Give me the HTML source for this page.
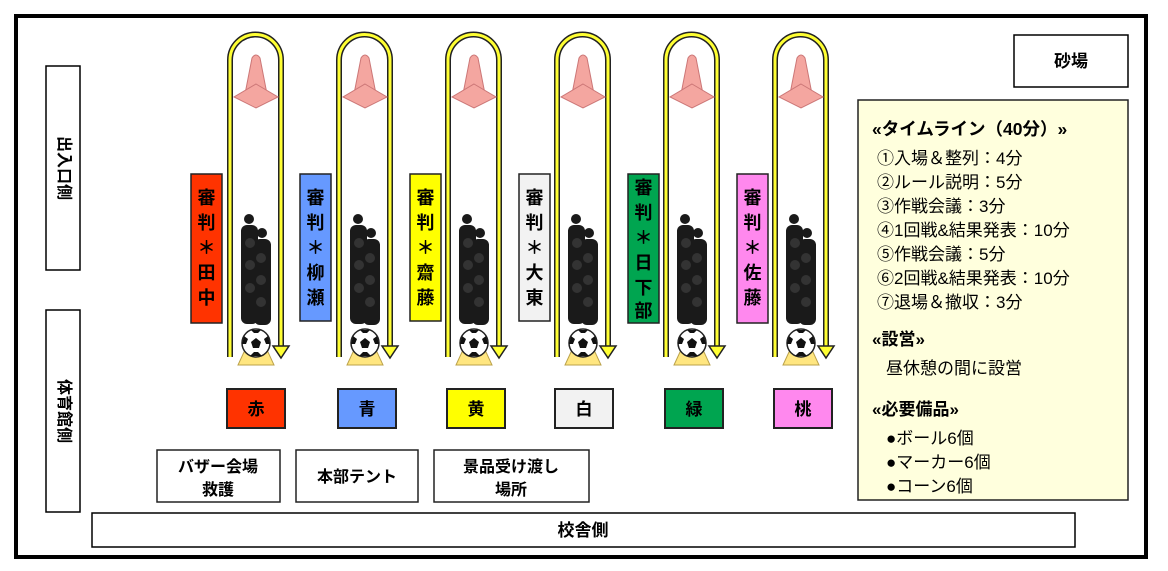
<!DOCTYPE html>
<html><head><meta charset="utf-8"><style>
html,body{margin:0;padding:0;background:#fff;}
svg{display:block;}
text{font-family:"Liberation Sans","Noto Sans CJK JP",sans-serif;}
.b{font-weight:bold;}
</style></head><body>
<svg width="1168" height="571" viewBox="0 0 1168 571" xmlns="http://www.w3.org/2000/svg">
<defs>
<g id="lane">
  <path d="M0,357 V60 A25.5,25.5 0 0 1 51,60 V348" fill="none" stroke="#222" stroke-width="6"/>
  <path d="M0,357 V60 A25.5,25.5 0 0 1 51,60 V348" fill="none" stroke="#ffff33" stroke-width="3"/>
  <polygon points="43,346 59,346 51,358" fill="#ffff33" stroke="#222" stroke-width="1.5"/>
  <path d="M22,58 Q26,52 30,58 L37,94 L15,94 Z" fill="#f4a6a0" stroke="#c77" stroke-width="1"/>
  <polygon points="26,84 48,97 26,108 4,97" fill="#f4a6a0" stroke="#c77" stroke-width="1"/>
  <polygon points="15,92 37,92 40,99 26,104 12,99" fill="#f4a6a0"/>
  <g fill="#1a1a1a">
    <circle cx="19" cy="219" r="5"/><rect x="11" y="225" width="17" height="99" rx="6"/>
    <circle cx="32" cy="233" r="5"/><rect x="24" y="239" width="17" height="86" rx="6"/>
    <circle cx="20" cy="243" r="5" fill="#333"/><circle cx="31" cy="258" r="5" fill="#333"/>
    <circle cx="20" cy="265" r="5" fill="#333"/><circle cx="31" cy="280" r="5" fill="#333"/>
    <circle cx="20" cy="288" r="5" fill="#333"/><circle cx="31" cy="302" r="5" fill="#333"/>
  </g>
  <path d="M8,365 L44,365 L38,352 L14,352 Z" fill="#ffe680" stroke="#bba24a" stroke-width="1"/>
  <circle cx="26" cy="343" r="14" fill="#fff" stroke="#222" stroke-width="1.5"/>
  <polygon points="26,338 31,342 29,348 23,348 21,342" fill="#111"/>
  <path d="M14,336 L18,339 L16,344 L12,344Z M38,336 L34,339 L36,344 L40,344Z M21,330 L31,330 L28,333 L24,333Z M20,356 L24,352 L28,352 L32,356Z" fill="#111"/>
</g>
</defs>
<rect x="16" y="16" width="1130" height="541" fill="#fff" stroke="#000" stroke-width="4"/>

<rect x="46" y="66" width="34" height="204" fill="#fff" stroke="#000" stroke-width="1.5"/>
<text class="b" font-size="16" text-anchor="middle" transform="translate(63,168) rotate(90)" dominant-baseline="middle">出入口側</text>
<rect x="46" y="310" width="34" height="202" fill="#fff" stroke="#000" stroke-width="1.5"/>
<text class="b" font-size="16" text-anchor="middle" transform="translate(63,411) rotate(90)" dominant-baseline="middle">体育館側</text>

<rect x="92" y="513" width="983" height="34" fill="#fff" stroke="#000" stroke-width="1.5"/>
<text class="b" x="583" y="536" font-size="17" text-anchor="middle">校舎側</text>

<rect x="1014" y="35" width="114" height="52" fill="#fff" stroke="#000" stroke-width="1.5"/>
<text class="b" x="1071" y="67" font-size="17" text-anchor="middle">砂場</text>

<use href="#lane" x="230"/>
<use href="#lane" x="339"/>
<use href="#lane" x="448"/>
<use href="#lane" x="557"/>
<use href="#lane" x="666"/>
<use href="#lane" x="775"/>

<g stroke="#222" stroke-width="1.5">
<rect x="191" y="174" width="31" height="149" fill="#ff3300"/>
<rect x="300" y="174" width="31" height="147" fill="#6699ff"/>
<rect x="410" y="174" width="31" height="147" fill="#ffff00"/>
<rect x="519" y="174" width="31" height="147" fill="#f2f2f2"/>
<rect x="628" y="174" width="31" height="149" fill="#00a550"/>
<rect x="737" y="174" width="31" height="149" fill="#ff88ee"/>
</g>
<g class="b" font-size="18" text-anchor="middle">
<text x="206.5" y="204">審</text><text x="206.5" y="229">判</text><text x="206.5" y="254">＊</text><text x="206.5" y="279">田</text><text x="206.5" y="304">中</text>
<text x="315.5" y="204">審</text><text x="315.5" y="229">判</text><text x="315.5" y="254">＊</text><text x="315.5" y="279">柳</text><text x="315.5" y="304">瀬</text>
<text x="425.5" y="204">審</text><text x="425.5" y="229">判</text><text x="425.5" y="254">＊</text><text x="425.5" y="279">齋</text><text x="425.5" y="304">藤</text>
<text x="534.5" y="204">審</text><text x="534.5" y="229">判</text><text x="534.5" y="254">＊</text><text x="534.5" y="279">大</text><text x="534.5" y="304">東</text>
<text x="643.5" y="194">審</text><text x="643.5" y="219">判</text><text x="643.5" y="244">＊</text><text x="643.5" y="269">日</text><text x="643.5" y="294">下</text><text x="643.5" y="317">部</text>
<text x="752.5" y="204">審</text><text x="752.5" y="229">判</text><text x="752.5" y="254">＊</text><text x="752.5" y="279">佐</text><text x="752.5" y="304">藤</text>
</g>

<g stroke="#222" stroke-width="2">
<rect x="227" y="389" width="58" height="39" fill="#ff3300"/>
<rect x="338" y="389" width="58" height="39" fill="#6699ff"/>
<rect x="447" y="389" width="58" height="39" fill="#ffff00"/>
<rect x="555" y="389" width="58" height="39" fill="#f2f2f2"/>
<rect x="665" y="389" width="58" height="39" fill="#00a550"/>
<rect x="774" y="389" width="58" height="39" fill="#ff88ee"/>
</g>
<g class="b" font-size="17" text-anchor="middle">
<text x="256" y="415">赤</text><text x="367" y="415">青</text><text x="476" y="415">黄</text>
<text x="584" y="415">白</text><text x="694" y="415">緑</text><text x="803" y="415">桃</text>
</g>

<g fill="#fff" stroke="#222" stroke-width="1.5">
<rect x="157" y="450" width="123" height="52"/>
<rect x="296" y="450" width="122" height="52"/>
<rect x="434" y="450" width="155" height="52"/>
</g>
<g class="b" font-size="16" text-anchor="middle">
<text x="218" y="472">バザー会場</text><text x="218" y="495">救護</text>
<text x="357" y="482">本部テント</text>
<text x="511" y="472">景品受け渡し</text><text x="511" y="495">場所</text>
</g>

<rect x="858" y="100" width="270" height="400" fill="#ffffdd" stroke="#222" stroke-width="1.5"/>
<g font-size="17">
<text class="b" x="872" y="135" font-size="17.5">«タイムライン（40分）»</text>
<text x="877" y="164">①入場＆整列：4分</text>
<text x="877" y="188">②ルール説明：5分</text>
<text x="877" y="212">③作戦会議：3分</text>
<text x="877" y="236">④1回戦&amp;結果発表：10分</text>
<text x="877" y="260">⑤作戦会議：5分</text>
<text x="877" y="284">⑥2回戦&amp;結果発表：10分</text>
<text x="877" y="308">⑦退場＆撤収：3分</text>
<text class="b" x="872" y="345">«設営»</text>
<text x="886" y="374">昼休憩の間に設営</text>
<text class="b" x="872" y="415">«必要備品»</text>
<text x="886" y="444">●ボール6個</text>
<text x="886" y="468">●マーカー6個</text>
<text x="886" y="492">●コーン6個</text>
</g>
</svg>
</body></html>
